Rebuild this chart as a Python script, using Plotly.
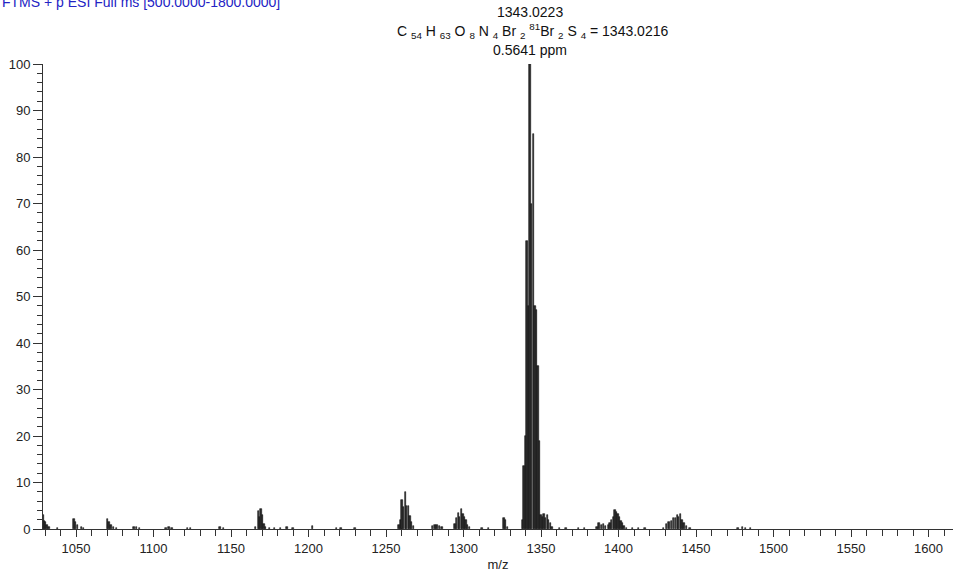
import plotly.graph_objects as go

# ---- data ----
mz = [
    1028.9, 1029.6, 1030.5, 1031.4, 1032.6, 1038.0,
    1048.7, 1049.8, 1050.9, 1053.7, 1055.0,
    1070.4, 1071.3, 1072.6, 1074.0, 1076.0,
    1087.5, 1089.0, 1091.0, 1108.0, 1110.0, 1112.0, 1122.0, 1124.0, 1143.0, 1145.0,
    1165.8, 1167.6, 1168.4, 1169.3, 1170.2, 1171.3, 1172.3,
    1175.0, 1178.0, 1182.0, 1186.0, 1190.0, 1202.7, 1218.0, 1221.0, 1230.0,
    1258.5, 1259.6, 1260.3, 1261.3, 1262.4, 1263.4, 1264.4, 1265.5, 1266.5, 1267.6,
    1280.0, 1281.5, 1283.0, 1284.5, 1286.0,
    1294.6, 1295.6, 1296.6, 1297.6, 1298.6, 1299.6, 1300.6, 1301.6, 1302.6, 1304.0,
    1312.0, 1316.0, 1326.0, 1327.0, 1328.2,
    1338.0, 1339.0, 1340.0, 1341.0, 1342.0, 1343.0, 1344.0, 1345.0, 1346.0,
    1347.0, 1348.0, 1349.0, 1350.0, 1351.0, 1352.0, 1353.0, 1354.0, 1355.0, 1356.0, 1357.0,
    1362.0, 1366.0, 1374.0, 1378.0,
    1386.0, 1387.5, 1389.0, 1390.4, 1391.5,
    1393.6, 1394.6, 1395.6, 1396.6, 1397.7, 1398.6, 1399.6, 1400.6, 1401.6, 1402.6, 1403.6, 1405.0,
    1409.0, 1413.0, 1417.0,
    1429.0, 1431.0, 1432.6, 1434.3, 1435.3, 1436.8, 1437.9, 1438.7, 1439.8, 1440.9, 1442.3, 1444.0, 1446.0,
    1477.0, 1480.0, 1482.0, 1485.0,
]
intensity = [
    3.0, 1.7, 1.6, 0.9, 0.4, 0.2,
    2.2, 1.6, 0.9, 0.4, 0.3,
    2.2, 1.6, 0.8, 0.4, 0.3,
    0.4, 0.5, 0.3, 0.3, 0.5, 0.3, 0.3, 0.3, 0.4, 0.3,
    0.5, 3.9, 2.6, 4.4, 3.0, 1.0, 0.4,
    0.3, 0.3, 0.3, 0.4, 0.3, 0.6, 0.3, 0.3, 0.3,
    0.8, 1.9, 6.2, 4.8, 7.9, 4.9, 4.9, 2.8, 1.5, 0.6,
    0.6, 0.9, 0.8, 0.7, 0.4,
    1.0, 2.3, 3.4, 2.6, 4.2, 3.2, 2.6, 1.9, 0.9, 0.4,
    0.3, 0.3, 2.3, 1.9, 0.5,
    2.0, 13.5, 20.0, 62.0, 48.0, 100.0, 70.0, 85.0, 48.0,
    47.0, 35.0, 19.0, 3.0, 2.5, 3.2, 2.4, 3.0, 2.0, 1.2, 0.5,
    0.3, 0.3, 0.2, 0.3,
    0.5, 1.2, 0.8, 1.0, 0.6,
    0.8, 1.2, 2.0, 2.6, 4.1, 3.6, 3.2, 2.6, 1.8, 1.2, 0.7, 0.3,
    0.3, 0.3, 0.2,
    0.3, 1.0, 1.4, 1.7, 2.3, 2.4, 3.0, 2.6, 3.2, 2.0, 1.2, 0.6, 0.3,
    0.3, 0.5, 0.3, 0.3,
]

x_ticks = [1050, 1100, 1150, 1200, 1250, 1300, 1350, 1400, 1450, 1500, 1550, 1600]
y_ticks = [0, 10, 20, 30, 40, 50, 60, 70, 80, 90, 100]

header_text = "FTMS + p ESI Full ms [500.0000-1800.0000]"
peak_label = "1343.0223"
formula_label = ("C <sub>54</sub> H <sub>63</sub> O <sub>8</sub> N <sub>4</sub> Br <sub>2</sub> "
                 "<sup>81</sup>Br <sub>2</sub> S <sub>4</sub> = 1343.0216")
ppm_label = "0.5641 ppm"
peak_mz = 1343.0

FONT = "Liberation Sans, Arial, sans-serif"

fig = go.Figure()
fig.add_trace(go.Bar(
    x=mz, y=intensity, width=0.9,
    marker=dict(color="#2c2c2c", line=dict(color="#111111", width=0.6)),
    hoverinfo="x+y",
))

fig.update_layout(
    width=953, height=572,
    margin=dict(l=43, r=0, t=64, b=43),
    paper_bgcolor="white", plot_bgcolor="white",
    showlegend=False,
    font=dict(family=FONT, size=13, color="#222222"),
    bargap=0,
)

fig.update_xaxes(
    range=[1028.7, 1615.8],
    tickmode="array", tickvals=x_ticks, ticktext=[str(v) for v in x_ticks],
    ticks="outside", ticklen=7, tickwidth=1, tickcolor="#333333",
    minor=dict(dtick=10, tick0=1000, ticks="outside", ticklen=6, tickwidth=1, tickcolor="#333333"),
    showline=True, linecolor="#333333", linewidth=1,
    showgrid=False, zeroline=False,
    title=dict(text="m/z", font=dict(size=13), standoff=6),
    tickfont=dict(size=13),
)
fig.update_yaxes(
    range=[0, 100],
    tickmode="array", tickvals=y_ticks, ticktext=[str(v) for v in y_ticks],
    ticks="outside", ticklen=9, tickwidth=1, tickcolor="#333333",
    minor=dict(dtick=2, tick0=0, ticks="outside", ticklen=5, tickwidth=1, tickcolor="#333333"),
    showline=True, linecolor="#333333", linewidth=1,
    showgrid=False, zeroline=False,
    tickfont=dict(size=13),
)

fig.add_annotation(text=header_text, xref="paper", yref="paper", x=-0.047, y=1.133,
                   xanchor="left", yanchor="middle", showarrow=False,
                   font=dict(family=FONT, size=14, color="#2323c4"))
fig.add_annotation(text=peak_label, xref="x", yref="paper", x=peak_mz, y=1.112,
                   xanchor="center", yanchor="middle", showarrow=False,
                   font=dict(family=FONT, size=14, color="#111111"))
fig.add_annotation(text=formula_label, xref="x", yref="paper", x=peak_mz + 1.8, y=1.071,
                   xanchor="center", yanchor="middle", showarrow=False,
                   font=dict(family=FONT, size=14, color="#111111"))
fig.add_annotation(text=ppm_label, xref="x", yref="paper", x=peak_mz, y=1.030,
                   xanchor="center", yanchor="middle", showarrow=False,
                   font=dict(family=FONT, size=14, color="#111111"))

fig.write_html("out.html")
